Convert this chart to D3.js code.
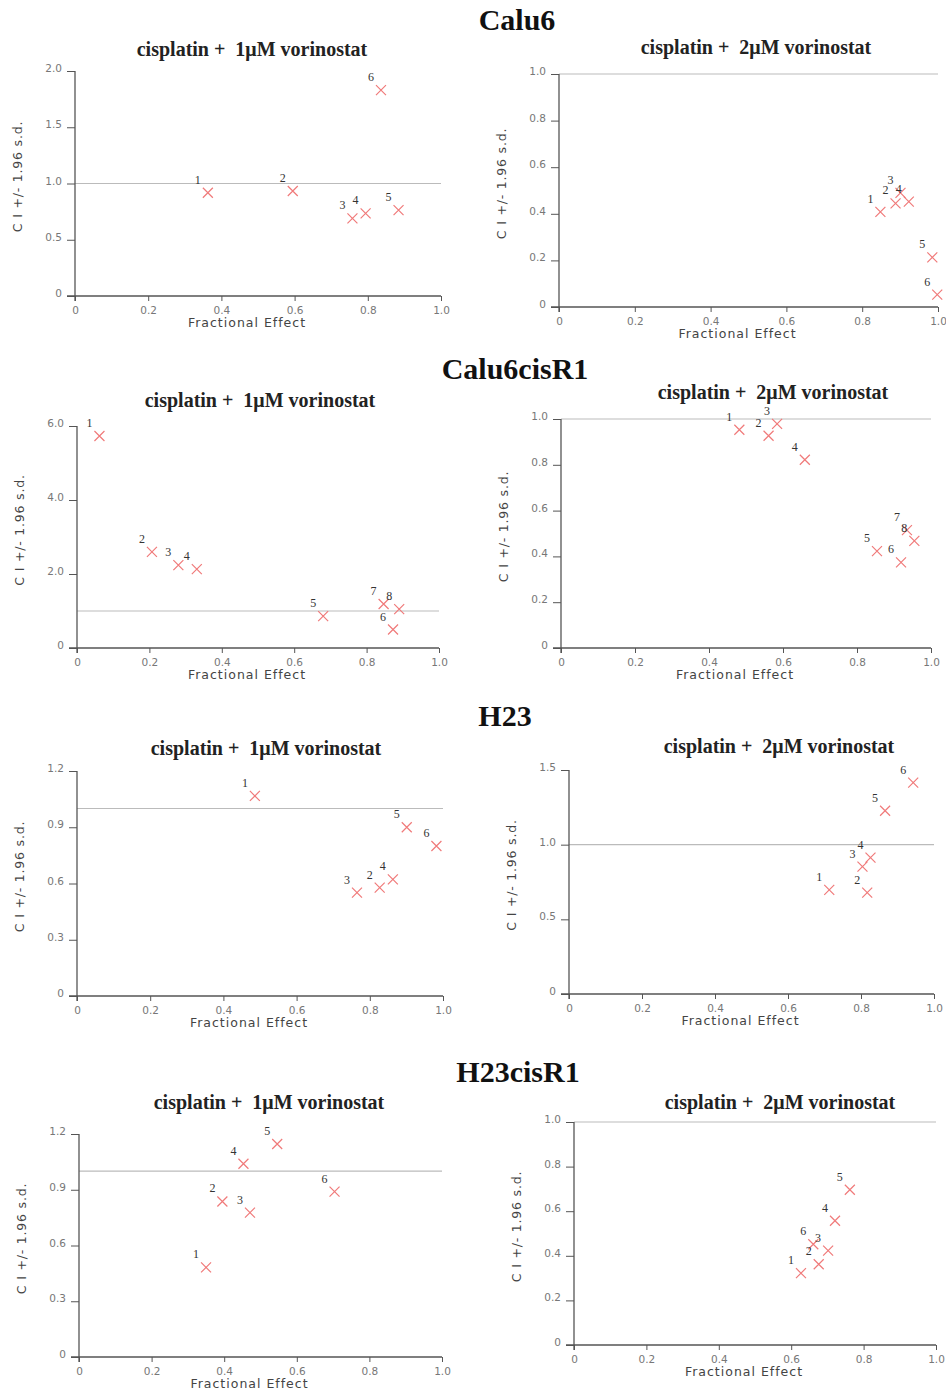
<!DOCTYPE html>
<html>
<head>
<meta charset="utf-8">
<script src="https://cdn.jsdelivr.net/npm/d3@7"></script>
<style>
  body { margin: 0; background: #fff; }
  .tick text { font-family: "DejaVu Sans", sans-serif; font-size: 10.5px; fill: #777; }
  .tick line { stroke: #555; }
</style>
</head>
<body>
<div id="chart"></div>
<script>
// combination index plots, 4 cell lines x 2 vorinostat doses

var xTicks = [0, 0.2, 0.4, 0.6, 0.8, 1.0];

// Calu6
var calu6_1_fe = [0.363, 0.595, 0.758, 0.794, 0.884, 0.836];
var calu6_1_ci = [0.918, 0.933, 0.69, 0.735, 0.764, 1.83];
var calu6_1_yTicks = [0, 0.5, 1.0, 1.5, 2.0];

var calu6_2_fe = [0.848, 0.888, 0.901, 0.923, 0.985, 0.998];
var calu6_2_ci = [0.408, 0.445, 0.49, 0.452, 0.213, 0.053];
var calu6_2_yTicks = [0, 0.2, 0.4, 0.6, 0.8, 1.0];

// Calu6cisR1
var calu6cis_1_fe = [0.062, 0.207, 0.280, 0.331, 0.680, 0.873, 0.847, 0.890];
var calu6cis_1_ci = [5.73, 2.60, 2.24, 2.13, 0.86, 0.50, 1.19, 1.05];
var calu6cis_1_yTicks = [0, 2.0, 4.0, 6.0];

var calu6cis_2_fe = [0.482, 0.561, 0.584, 0.659, 0.854, 0.919, 0.935, 0.955];
var calu6cis_2_ci = [0.953, 0.927, 0.979, 0.822, 0.423, 0.374, 0.515, 0.468];
var calu6cis_2_yTicks = [0, 0.2, 0.4, 0.6, 0.8, 1.0];

// H23
var h23_1_fe = [0.486, 0.827, 0.765, 0.863, 0.901, 0.982];
var h23_1_ci = [1.067, 0.578, 0.551, 0.622, 0.90, 0.80];
var h23_1_yTicks = [0, 0.3, 0.6, 0.9, 1.2];

var h23_2_fe = [0.713, 0.817, 0.804, 0.826, 0.866, 0.943];
var h23_2_ci = [0.697, 0.679, 0.853, 0.913, 1.227, 1.415];
var h23_2_yTicks = [0, 0.5, 1.0, 1.5];

// H23cisR1
var h23cis_1_fe = [0.350, 0.395, 0.471, 0.453, 0.546, 0.704];
var h23cis_1_ci = [0.482, 0.837, 0.777, 1.040, 1.146, 0.890];
var h23cis_1_yTicks = [0, 0.3, 0.6, 0.9, 1.2];

var h23cis_2_fe = [0.627, 0.676, 0.702, 0.721, 0.762, 0.661];
var h23cis_2_ci = [0.322, 0.362, 0.423, 0.557, 0.696, 0.452];
var h23cis_2_yTicks = [0, 0.2, 0.4, 0.6, 0.8, 1.0];

var cellLines = ["Calu6", "Calu6cisR1", "H23", "H23cisR1"];
var doseTitles = ["cisplatin +  1\u03bcM vorinostat", "cisplatin +  2\u03bcM vorinostat"];

// layout: pixel boxes of each plot area (left, right, top, bottom) and title spots
var boxes = [
  [75, 441, 71, 296], [559, 938, 74, 307],
  [77, 439, 426, 648], [561, 931, 419, 648],
  [77, 443, 771, 996], [569, 934, 770, 994],
  [79, 442, 1134, 1357], [574, 936, 1122, 1345]
];
var titlePos = [[252, 55], [756, 53], [260, 406], [773, 398], [266, 754], [779, 752], [269, 1108], [780, 1108]];
var headPos = [[517, 30], [515, 379], [505, 726], [518, 1082]];

var panels = [
  {fe: calu6_1_fe, ci: calu6_1_ci, yt: calu6_1_yTicks},
  {fe: calu6_2_fe, ci: calu6_2_ci, yt: calu6_2_yTicks},
  {fe: calu6cis_1_fe, ci: calu6cis_1_ci, yt: calu6cis_1_yTicks},
  {fe: calu6cis_2_fe, ci: calu6cis_2_ci, yt: calu6cis_2_yTicks},
  {fe: h23_1_fe, ci: h23_1_ci, yt: h23_1_yTicks},
  {fe: h23_2_fe, ci: h23_2_ci, yt: h23_2_yTicks},
  {fe: h23cis_1_fe, ci: h23cis_1_ci, yt: h23cis_1_yTicks},
  {fe: h23cis_2_fe, ci: h23cis_2_ci, yt: h23cis_2_yTicks}
];

var W = 946, H = 1393;
var svg = d3.select("#chart").append("svg").attr("width", W).attr("height", H);

var fmt = function(d) { return d === 0 ? "0" : d3.format(".1f")(d); };

cellLines.forEach(function(name, i) {
  svg.append("text")
    .attr("x", headPos[i][0]).attr("y", headPos[i][1])
    .attr("text-anchor", "middle")
    .style("font-family", "'Liberation Serif', serif")
    .style("font-weight", "bold").style("font-size", "30px")
    .style("fill", "#111")
    .text(name);
});

panels.forEach(function(p, i) {
  var b = boxes[i];
  var x = d3.scaleLinear().domain([0, 1]).range([b[0], b[1]]);
  var y = d3.scaleLinear().domain([0, d3.max(p.yt)]).range([b[3], b[2]]);
  var g = svg.append("g");

  g.append("text")
    .attr("x", titlePos[i][0]).attr("y", titlePos[i][1] + 1)
    .attr("text-anchor", "middle")
    .style("font-family", "'Liberation Serif', serif")
    .style("font-weight", "bold").style("font-size", "20px")
    .style("white-space", "pre")
    .style("fill", "#222")
    .text(doseTitles[i % 2]);

  // reference line CI = 1
  g.append("line")
    .attr("x1", b[0]).attr("x2", b[1])
    .attr("y1", y(1)).attr("y2", y(1))
    .style("stroke", "#bbb").style("stroke-width", 1.2);

  var xa = g.append("g").attr("transform", "translate(0," + b[3] + ")")
    .call(d3.axisBottom(x).tickValues(xTicks).tickFormat(fmt).tickSize(5).tickPadding(6));
  xa.select(".domain").remove();

  var ya = g.append("g").attr("transform", "translate(" + b[0] + ",0)")
    .call(d3.axisLeft(y).tickValues(p.yt).tickFormat(fmt).tickSize(8).tickPadding(5));
  ya.select(".domain").remove();
  ya.selectAll(".tick text").attr("dy", "0.05em");

  // axis lines
  g.append("line").attr("x1", b[0]).attr("x2", b[0]).attr("y1", b[2]).attr("y2", b[3] + 5)
    .style("stroke", "#555").style("stroke-width", 1.3);
  g.append("line").attr("x1", b[0] - 8).attr("x2", b[1]).attr("y1", b[3]).attr("y2", b[3])
    .style("stroke", "#555").style("stroke-width", 1.3);

  g.append("text")
    .attr("transform", "translate(" + (b[0] - 53) + "," + ((b[2] + b[3]) / 2 - 7) + ") rotate(-90)")
    .attr("text-anchor", "middle")
    .style("font-family", "'DejaVu Sans', sans-serif").style("font-size", "12.5px")
    .style("letter-spacing", "0.8px").style("fill", "#444")
    .text("C I +/- 1.96 s.d.");

  g.append("text")
    .attr("x", (b[0] + b[1]) / 2 - 11).attr("y", b[3] + 31)
    .attr("text-anchor", "middle")
    .style("font-family", "'DejaVu Sans', sans-serif").style("font-size", "12.5px")
    .style("letter-spacing", "1px").style("fill", "#444")
    .text("Fractional Effect");

  var pts = p.fe.map(function(d, k) { return {fe: d, ci: p.ci[k], n: k + 1}; });

  g.selectAll(".mk").data(pts).enter().append("path")
    .attr("transform", function(d) { return "translate(" + x(d.fe) + "," + y(d.ci) + ")"; })
    .attr("d", "M-5,-5L5,5M-5,5L5,-5")
    .style("stroke", "#f07a7a").style("stroke-width", 1.2).style("fill", "none");

  g.selectAll(".lb").data(pts).enter().append("text")
    .attr("x", function(d) { return x(d.fe) - 10; })
    .attr("y", function(d) { return y(d.ci) - 9; })
    .attr("text-anchor", "middle")
    .style("font-family", "'Liberation Serif', serif").style("font-size", "12px")
    .style("fill", "#333")
    .text(function(d) { return d.n; });
});
</script>
</body>
</html>
